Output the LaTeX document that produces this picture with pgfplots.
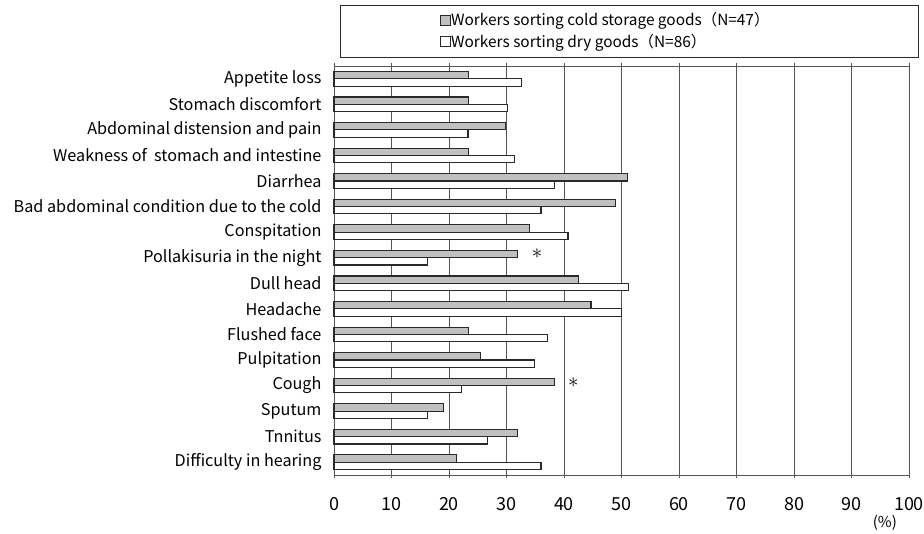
\documentclass[border=0pt]{standalone}
\usepackage{fontspec}
\setmainfont{Noto Sans CJK JP}
\usepackage{pgfplots}
\usepackage{pgfplotstable}
\pgfplotsset{compat=1.18}
\definecolor{barfill}{HTML}{C0C0C0}
\definecolor{gridc}{HTML}{555555}
\definecolor{edgec}{HTML}{2A2A2A}

% symptom rate (%), row 16 = top of the chart
\pgfplotstableread{
y  cold  dry
16 23.4  32.6
15 23.4  30.2
14 29.8  23.3
13 23.4  31.4
12 51.1  38.4
11 48.9  36.0
10 34.0  40.7
9  31.9  16.3
8  42.6  51.2
7  44.7  50.0
6  23.4  37.2
5  25.5  34.9
4  38.3  22.1
3  19.1  16.3
2  31.9  26.7
1  21.3  36.0
}\symptoms

\begin{document}
\begin{tikzpicture}
    \path[use as bounding box] (-334pt,-58pt) rectangle (590pt,475pt);
    \begin{axis}[
        at = {(0,0)}, anchor = south west,
        scale only axis,
        width = 575pt, height = 409pt,
        xmin = 0, xmax = 100,
        ymin = 0.5, ymax = 16.5,
        xtick = {0,10,...,100},
        ytick = {1,...,16},
        yticklabels = {Difficulty in hearing, Tnnitus, Sputum, Cough,
            Pulpitation, Flushed face, Headache, Dull head,
            Pollakisuria in the night, Conspitation,
            Bad abdominal condition due to the cold, Diarrhea,
            Weakness of\ \ stomach and intestine,
            Abdominal distension and pain\hspace{6pt},
            Stomach discomfort, Appetite loss},
        xmajorgrids,
        grid style = {gridc, line width=0.8pt},
        axis line style = {gridc, line width=0.8pt},
        major y tick style = {draw=none},
        major x tick style = {gridc, line width=0.8pt},
        xtick align = outside,
        major tick length = 3pt,
        /pgf/number format/assume math mode = true,
        xticklabel style = {font=\fontsize{18}{18}\selectfont, yshift=-16pt},
        yticklabel style = {font=\fontsize{16.2}{16.2}\selectfont, xshift=-6pt},
        xbar, bar width = 7.3pt,
        legend style = {
            draw = none, fill = none,
            at = {(axis description cs:0.178,1.138)}, anchor = north west,
            font = \fontsize{15.4}{15.4}\selectfont,
            row sep = 5pt,
            nodes = {inner sep=1pt},
        },
        legend cell align = left,
        legend image code/.code = {
            \draw[#1, line width=0.6pt] (-1pt,-5pt) rectangle (9pt,5pt);
        },
        clip = false,
    ]
        \addplot[bar shift = 3.65pt, fill = barfill, draw = edgec, line width = 1.1pt]
            table[x = cold, y = y] {\symptoms};
        \addlegendentry{Workers sorting cold storage goods（N=47）}
        \addplot[bar shift = -3.65pt, fill = white, draw = edgec, line width = 1.1pt]
            table[x = dry, y = y] {\symptoms};
        \addlegendentry{Workers sorting dry goods（N=86）}

        \node[font=\fontsize{22}{22}\selectfont] at (axis cs:35.3,9.17) {$\ast$};
        \node[font=\fontsize{22}{22}\selectfont] at (axis cs:41.6,4.1) {$\ast$};
        \node[font=\fontsize{15}{15}\selectfont] at (rel axis cs:0.958,-0.118) {(\%)};
    \end{axis}
    \draw[edgec, line width=0.8pt] (6pt,418pt) rectangle (584pt,470pt);
\end{tikzpicture}
\end{document}
